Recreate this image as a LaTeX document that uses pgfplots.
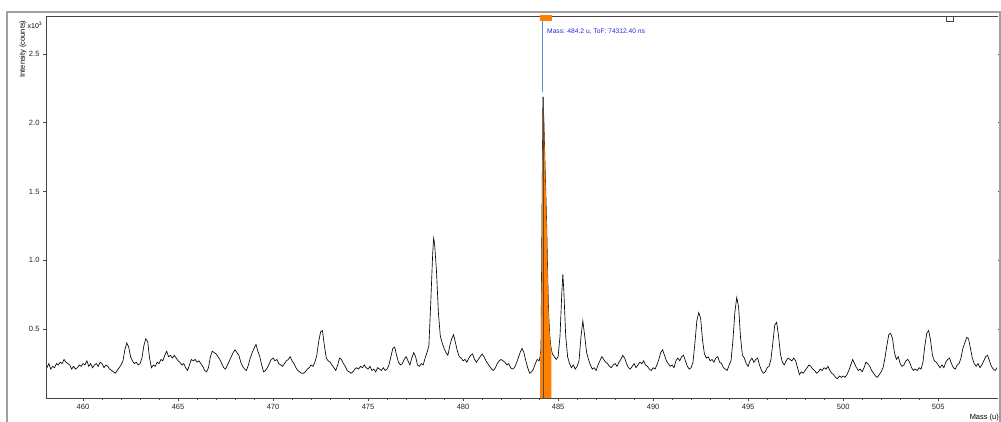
\documentclass[border=0pt]{standalone}
\usepackage{fontspec}
\setmainfont{Liberation Sans}
\usepackage{pgfplots}
\usepackage{pgfplotstable}
\pgfplotsset{compat=1.18}

\definecolor{axisgray}{RGB}{70,70,70}
\definecolor{framegray}{RGB}{160,160,160}
\definecolor{peakorange}{RGB}{255,128,0}
\definecolor{cursorblue}{RGB}{95,140,200}
\definecolor{labelblue}{RGB}{40,40,220}

% mass (u) vs intensity (x10^3 counts)
\pgfplotstableread{
m i
458.0 0.24
458.1 0.22
458.2 0.25
458.3 0.21
458.4 0.23
458.5 0.22
458.6 0.25
458.7 0.24
458.8 0.26
458.9 0.25
459.0 0.28
459.1 0.26
459.2 0.25
459.3 0.24
459.4 0.21
459.5 0.23
459.6 0.21
459.7 0.22
459.8 0.24
459.9 0.23
460.0 0.25
460.1 0.24
460.2 0.27
460.3 0.23
460.4 0.25
460.5 0.22
460.6 0.24
460.7 0.25
460.8 0.23
460.9 0.26
461.0 0.25
461.1 0.22
461.2 0.24
461.3 0.23
461.4 0.21
461.5 0.20
461.6 0.19
461.7 0.18
461.8 0.20
461.9 0.22
462.0 0.24
462.1 0.27
462.2 0.35
462.3 0.40
462.4 0.37
462.5 0.30
462.6 0.27
462.7 0.25
462.8 0.26
462.9 0.24
463.0 0.25
463.1 0.29
463.2 0.38
463.3 0.43
463.4 0.41
463.5 0.29
463.6 0.22
463.7 0.24
463.8 0.23
463.9 0.26
464.0 0.25
464.1 0.28
464.2 0.27
464.3 0.31
464.4 0.34
464.5 0.30
464.6 0.31
464.7 0.29
464.8 0.31
464.9 0.29
465.0 0.27
465.1 0.26
465.2 0.24
465.3 0.25
465.4 0.22
465.5 0.20
465.6 0.24
465.7 0.28
465.8 0.27
465.9 0.28
466.0 0.26
466.1 0.27
466.2 0.25
466.3 0.23
466.4 0.20
466.5 0.19
466.6 0.22
466.7 0.30
466.8 0.34
466.9 0.33
467.0 0.32
467.1 0.30
467.2 0.28
467.3 0.25
467.4 0.22
467.5 0.21
467.6 0.24
467.7 0.27
467.8 0.30
467.9 0.33
468.0 0.35
468.1 0.33
468.2 0.31
468.3 0.26
468.4 0.23
468.5 0.21
468.6 0.20
468.7 0.24
468.8 0.29
468.9 0.33
469.0 0.36
469.1 0.39
469.2 0.34
469.3 0.30
469.4 0.24
469.5 0.19
469.6 0.20
469.7 0.22
469.8 0.25
469.9 0.28
470.0 0.29
470.1 0.27
470.2 0.28
470.3 0.25
470.4 0.24
470.5 0.23
470.6 0.25
470.7 0.27
470.8 0.28
470.9 0.30
471.0 0.27
471.1 0.25
471.2 0.22
471.3 0.20
471.4 0.19
471.5 0.18
471.6 0.18
471.7 0.19
471.8 0.21
471.9 0.22
472.0 0.24
472.1 0.23
472.2 0.26
472.3 0.31
472.4 0.41
472.5 0.48
472.6 0.49
472.7 0.38
472.8 0.29
472.9 0.27
473.0 0.26
473.1 0.24
473.2 0.22
473.3 0.20
473.4 0.24
473.5 0.29
473.6 0.28
473.7 0.25
473.8 0.23
473.9 0.20
474.0 0.19
474.1 0.18
474.2 0.19
474.3 0.21
474.4 0.22
474.5 0.21
474.6 0.23
474.7 0.22
474.8 0.24
474.9 0.22
475.0 0.21
475.1 0.23
475.2 0.20
475.3 0.21
475.4 0.19
475.5 0.22
475.6 0.21
475.7 0.20
475.8 0.22
475.9 0.20
476.0 0.21
476.1 0.24
476.2 0.30
476.3 0.36
476.4 0.37
476.5 0.31
476.6 0.26
476.7 0.24
476.8 0.25
476.9 0.28
477.0 0.30
477.1 0.27
477.2 0.24
477.3 0.29
477.4 0.33
477.5 0.30
477.6 0.24
477.7 0.23
477.8 0.25
477.9 0.24
478.0 0.29
478.1 0.33
478.2 0.38
478.3 0.70
478.4 1.05
478.45 1.16
478.5 1.12
478.6 0.92
478.7 0.62
478.8 0.45
478.9 0.40
479.0 0.36
479.1 0.33
479.2 0.31
479.3 0.38
479.4 0.43
479.5 0.46
479.6 0.40
479.7 0.34
479.8 0.30
479.9 0.29
480.0 0.27
480.1 0.28
480.2 0.26
480.3 0.29
480.4 0.31
480.5 0.32
480.6 0.28
480.7 0.26
480.8 0.28
480.9 0.30
481.0 0.32
481.1 0.30
481.2 0.27
481.3 0.25
481.4 0.23
481.5 0.21
481.6 0.20
481.7 0.22
481.8 0.25
481.9 0.27
482.0 0.28
482.1 0.27
482.2 0.26
482.3 0.24
482.4 0.25
482.5 0.22
482.6 0.21
482.7 0.22
482.8 0.25
482.9 0.29
483.0 0.33
483.1 0.36
483.2 0.33
483.3 0.27
483.4 0.22
483.5 0.18
483.6 0.19
483.7 0.21
483.8 0.25
483.9 0.28
484.0 0.27
484.05 0.30
484.1 0.36
484.15 1.30
484.2 2.19
484.25 2.02
484.3 1.75
484.35 1.50
484.4 1.25
484.45 0.90
484.5 0.62
484.55 0.48
484.6 0.39
484.65 0.35
484.7 0.32
484.8 0.30
484.9 0.28
485.0 0.30
485.1 0.45
485.2 0.78
485.25 0.90
485.3 0.78
485.4 0.45
485.5 0.30
485.6 0.25
485.7 0.22
485.8 0.24
485.9 0.21
486.0 0.23
486.1 0.27
486.2 0.44
486.3 0.56
486.4 0.45
486.5 0.33
486.6 0.28
486.7 0.24
486.8 0.21
486.9 0.22
487.0 0.20
487.1 0.24
487.2 0.27
487.3 0.30
487.4 0.28
487.5 0.26
487.6 0.25
487.7 0.23
487.8 0.22
487.9 0.24
488.0 0.25
488.1 0.23
488.2 0.26
488.3 0.28
488.4 0.31
488.5 0.29
488.6 0.25
488.7 0.22
488.8 0.21
488.9 0.23
489.0 0.25
489.1 0.22
489.2 0.24
489.3 0.26
489.4 0.25
489.5 0.27
489.6 0.24
489.7 0.23
489.8 0.21
489.9 0.20
490.0 0.22
490.1 0.21
490.2 0.24
490.3 0.28
490.4 0.33
490.5 0.35
490.6 0.31
490.7 0.27
490.8 0.25
490.9 0.23
491.0 0.24
491.1 0.22
491.2 0.27
491.3 0.29
491.4 0.27
491.5 0.30
491.6 0.31
491.7 0.27
491.8 0.23
491.9 0.21
492.0 0.22
492.1 0.26
492.2 0.40
492.3 0.56
492.4 0.62
492.5 0.58
492.6 0.42
492.7 0.32
492.8 0.29
492.9 0.30
493.0 0.27
493.1 0.28
493.2 0.26
493.3 0.29
493.4 0.30
493.5 0.26
493.6 0.25
493.7 0.22
493.8 0.21
493.9 0.20
494.0 0.24
494.1 0.27
494.2 0.42
494.3 0.62
494.4 0.73
494.5 0.66
494.6 0.44
494.7 0.31
494.8 0.29
494.9 0.25
495.0 0.23
495.1 0.27
495.2 0.29
495.3 0.26
495.4 0.28
495.5 0.29
495.6 0.24
495.7 0.20
495.8 0.18
495.9 0.19
496.0 0.22
496.1 0.23
496.2 0.28
496.3 0.40
496.4 0.53
496.5 0.55
496.6 0.45
496.7 0.32
496.8 0.26
496.9 0.24
497.0 0.27
497.1 0.29
497.2 0.28
497.3 0.27
497.4 0.29
497.5 0.27
497.6 0.22
497.7 0.17
497.8 0.19
497.9 0.18
498.0 0.20
498.1 0.22
498.2 0.24
498.3 0.23
498.4 0.21
498.5 0.20
498.6 0.18
498.7 0.19
498.8 0.21
498.9 0.20
499.0 0.22
499.1 0.21
499.2 0.23
499.3 0.20
499.4 0.18
499.5 0.17
499.6 0.15
499.7 0.14
499.8 0.16
499.9 0.15
500.0 0.16
500.1 0.15
500.2 0.17
500.3 0.20
500.4 0.24
500.5 0.28
500.6 0.25
500.7 0.22
500.8 0.20
500.9 0.21
501.0 0.19
501.1 0.22
501.2 0.26
501.3 0.25
501.4 0.23
501.5 0.20
501.6 0.18
501.7 0.16
501.8 0.15
501.9 0.17
502.0 0.19
502.1 0.22
502.2 0.29
502.3 0.38
502.4 0.46
502.5 0.47
502.6 0.43
502.7 0.33
502.8 0.28
502.9 0.30
503.0 0.25
503.1 0.23
503.2 0.24
503.3 0.27
503.4 0.28
503.5 0.26
503.6 0.22
503.7 0.20
503.8 0.21
503.9 0.20
504.0 0.22
504.1 0.21
504.2 0.26
504.3 0.38
504.4 0.47
504.5 0.49
504.6 0.42
504.7 0.31
504.8 0.27
504.9 0.26
505.0 0.24
505.1 0.22
505.2 0.24
505.3 0.22
505.4 0.26
505.5 0.28
505.6 0.29
505.7 0.25
505.8 0.22
505.9 0.21
506.0 0.24
506.1 0.25
506.2 0.29
506.3 0.36
506.4 0.40
506.5 0.44
506.6 0.43
506.7 0.36
506.8 0.29
506.9 0.25
507.0 0.23
507.1 0.25
507.2 0.22
507.3 0.24
507.4 0.27
507.5 0.30
507.6 0.31
507.7 0.27
507.8 0.23
507.9 0.21
508.0 0.20
508.1 0.22
}\spectrum

% integrated peak window around 484.2 u
\pgfplotstableread{
m i
484.05 0.30
484.1 0.36
484.15 1.30
484.2 2.19
484.25 2.02
484.3 1.75
484.35 1.50
484.4 1.25
484.45 0.90
484.5 0.62
484.55 0.48
484.6 0.39
484.65 0.35
}\peakwindow

\begin{document}
\begin{tikzpicture}
\begin{axis}[
  at={(0,0)}, anchor=south west,
  scale only axis,
  width=952bp, height=382bp,
  xmin=458.05, xmax=508.15,
  ymin=0, ymax=2.775,
  axis line style={draw=none},
  tick align=outside,
  xtick={460,465,...,505},
  minor x tick num=4,
  xtick pos=bottom,
  ytick={0.5,1.0,1.5,2.0,2.5},
  ytick pos=both,
  major tick length=3bp,
  minor tick length=2bp,
  every tick/.style={axisgray, line width=0.6bp},
  tick label style={font=\fontsize{7.6}{8}\selectfont, text=black!85},
  /pgf/number format/assume math mode=true,
  x tick label style={/pgf/number format/.cd, fixed, 1000 sep={}},
  y tick label style={/pgf/number format/.cd, fixed, fixed zerofill, precision=1},
  yticklabel pos=left,
  clip=true,
]
  % spectrum trace
  \addplot[black, line width=0.65bp, mark=none] table[x=m, y=i] {\spectrum};
  % highlighted peak window
  \addplot[fill=peakorange, draw=none, mark=none] table[x=m, y=i] {\peakwindow} \closedcycle;
  % cursor at 484.2 u
  \addplot[black!70, line width=0.8bp, mark=none] coordinates {(484.2,0) (484.2,2.19)};
  \addplot[cursorblue, line width=1bp, mark=none] coordinates {(484.2,2.22) (484.2,2.775)};
\end{axis}

% axis box
\draw[axisgray, line width=0.8bp] (0,382bp) -- (0,0) -- (952bp,0);
\draw[axisgray, line width=0.8bp] (0,382bp) -- (952bp,382bp);
% outer panel frame
\draw[framegray, line width=1.4bp] (-39bp,-30bp) -- (-39bp,386bp) -- (954bp,386bp) -- (954bp,-30bp);

% cursor handle and readout
\fill[peakorange] (494bp,376.5bp) rectangle (506bp,382.8bp);
\node[anchor=west, inner sep=0pt, text=labelblue, font=\fontsize{6.7}{8}\selectfont]
  at (501bp,366bp) {Mass: 484.2 u, ToF: 74312.40 ns};
% small legend box
\draw[axisgray, fill=white, line width=0.6bp] (900bp,376.5bp) rectangle (907bp,381.5bp);

% axis titles
\node[rotate=90, inner sep=0pt, font=\fontsize{7.5}{9}\selectfont] at (-23bp,349bp) {Intensity (counts)};
\node[anchor=west, inner sep=0pt, font=\fontsize{7}{8}\selectfont] at (-18.5bp,373bp) {x10\textsuperscript{3}};
\node[anchor=east, inner sep=0pt, font=\fontsize{7.5}{9}\selectfont] at (953bp,-19.5bp) {Mass (u)};

\pgfresetboundingbox
\useasboundingbox (-46bp,-24bp) rectangle (955bp,398bp);
\end{tikzpicture}
\end{document}
